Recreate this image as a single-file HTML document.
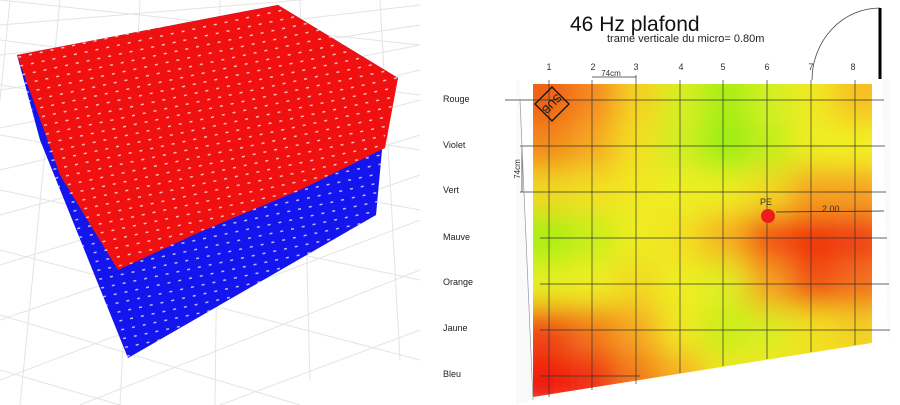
<!DOCTYPE html>
<html><head><meta charset="utf-8"><style>body{margin:0;background:#fff}svg{display:block;font-family:"Liberation Sans",sans-serif}</style></head><body>
<svg width="900" height="405" viewBox="0 0 900 405">
<defs>
<pattern id="dots" width="11" height="9" patternUnits="userSpaceOnUse" patternTransform="rotate(-12)"><rect x="6" y="5" width="3" height="1.5" fill="#fff" opacity=".7"/></pattern>
<filter id="bl" x="-10%" y="-10%" width="120%" height="120%"><feGaussianBlur stdDeviation="14"/></filter>
<clipPath id="hc"><polygon points="533,84 872,84 872,343 533,397"/></clipPath>
</defs>
<!-- left floor grid -->
<g stroke="#e4e4e4" stroke-width="1">
<line x1="0" y1="25" x2="420" y2="-10"/><line x1="0" y1="55" x2="420" y2="5"/><line x1="0" y1="90" x2="420" y2="25"/><line x1="0" y1="128" x2="420" y2="45"/><line x1="0" y1="170" x2="420" y2="70"/><line x1="0" y1="215" x2="420" y2="100"/><line x1="0" y1="265" x2="420" y2="135"/><line x1="0" y1="320" x2="420" y2="175"/><line x1="0" y1="380" x2="420" y2="220"/><line x1="80" y1="405" x2="420" y2="270"/><line x1="220" y1="405" x2="420" y2="330"/>
<line x1="0" y1="0" x2="420" y2="45"/><line x1="0" y1="40" x2="420" y2="95"/><line x1="0" y1="85" x2="420" y2="150"/><line x1="0" y1="135" x2="420" y2="210"/><line x1="0" y1="190" x2="420" y2="280"/><line x1="0" y1="250" x2="420" y2="360"/><line x1="0" y1="315" x2="300" y2="405"/><line x1="0" y1="370" x2="120" y2="405"/>
<line x1="60" y1="0" x2="20" y2="405"/><line x1="140" y1="0" x2="120" y2="405"/><line x1="220" y1="0" x2="215" y2="405"/><line x1="300" y1="0" x2="310" y2="380"/><line x1="380" y1="0" x2="400" y2="360"/><line x1="10" y1="0" x2="0" y2="100"/>
</g>
<polygon points="17,55 278,5 398,78 382,150 376,215 128,358 40,140" fill="#1414ee"/>
<polygon points="17,55 278,5 398,78 385,148 300,190 200,232 118,270 60,175" fill="#f01010"/>
<polygon points="17,55 278,5 398,78 382,150 376,215 128,358 40,140" fill="url(#dots)"/>
<!-- labels -->
<g font-size="9" fill="#222">
<text x="443" y="102">Rouge</text><text x="443" y="148">Violet</text><text x="443" y="193">Vert</text><text x="443" y="240">Mauve</text><text x="443" y="285">Orange</text><text x="443" y="331">Jaune</text><text x="443" y="377">Bleu</text>
</g>
<polygon points="516,80 890,80 890,338 533,400 516,405" fill="#fafafa"/>
<polygon points="520,80 882,80 888,340 533,400" fill="#fff"/>
<g clip-path="url(#hc)"><g filter="url(#bl)">
<g transform="translate(505,54)">
<rect x="0" y="0" width="66" height="69" fill="#f06018"/><rect x="66" y="0" width="44" height="69" fill="#f58a20"/><rect x="110" y="0" width="44" height="69" fill="#f5d020"/><rect x="154" y="0" width="44" height="69" fill="#d8ee20"/><rect x="198" y="0" width="44" height="69" fill="#a8ee18"/><rect x="242" y="0" width="44" height="69" fill="#d0f020"/><rect x="286" y="0" width="44" height="69" fill="#f2e820"/><rect x="330" y="0" width="60" height="69" fill="#f5c020"/>
<rect x="0" y="69" width="66" height="46" fill="#f28a1e"/><rect x="66" y="69" width="44" height="46" fill="#f5a820"/><rect x="110" y="69" width="44" height="46" fill="#f2e020"/><rect x="154" y="69" width="44" height="46" fill="#d0ee20"/><rect x="198" y="69" width="44" height="46" fill="#9aee16"/><rect x="242" y="69" width="44" height="46" fill="#c0ee1e"/><rect x="286" y="69" width="44" height="46" fill="#eeee20"/><rect x="330" y="69" width="60" height="46" fill="#f2f020"/>
<rect x="0" y="115" width="66" height="46" fill="#f0d820"/><rect x="66" y="115" width="44" height="46" fill="#f2e020"/><rect x="110" y="115" width="44" height="46" fill="#f2e820"/><rect x="154" y="115" width="44" height="46" fill="#eeee20"/><rect x="198" y="115" width="44" height="46" fill="#eeee20"/><rect x="242" y="115" width="44" height="46" fill="#f2d820"/><rect x="286" y="115" width="44" height="46" fill="#f5a020"/><rect x="330" y="115" width="60" height="46" fill="#f5a020"/>
<rect x="0" y="161" width="66" height="46" fill="#a8ee18"/><rect x="66" y="161" width="44" height="46" fill="#c8ee1e"/><rect x="110" y="161" width="44" height="46" fill="#eeee20"/><rect x="154" y="161" width="44" height="46" fill="#f2e020"/><rect x="198" y="161" width="44" height="46" fill="#f5b020"/><rect x="242" y="161" width="44" height="46" fill="#f25018"/><rect x="286" y="161" width="44" height="46" fill="#f03010"/><rect x="330" y="161" width="60" height="46" fill="#f04014"/>
<rect x="0" y="207" width="66" height="46" fill="#e6ee20"/><rect x="66" y="207" width="44" height="46" fill="#eeee20"/><rect x="110" y="207" width="44" height="46" fill="#f2d820"/><rect x="154" y="207" width="44" height="46" fill="#eeee20"/><rect x="198" y="207" width="44" height="46" fill="#e0ee20"/><rect x="242" y="207" width="44" height="46" fill="#f5a020"/><rect x="286" y="207" width="44" height="46" fill="#f25018"/><rect x="330" y="207" width="60" height="46" fill="#f2701a"/>
<rect x="0" y="253" width="66" height="46" fill="#f04a16"/><rect x="66" y="253" width="44" height="46" fill="#f27a1c"/><rect x="110" y="253" width="44" height="46" fill="#f5a820"/><rect x="154" y="253" width="44" height="46" fill="#f0e820"/><rect x="198" y="253" width="44" height="46" fill="#c8ee1e"/><rect x="242" y="253" width="44" height="46" fill="#d8ee20"/><rect x="286" y="253" width="44" height="46" fill="#f2e020"/><rect x="330" y="253" width="60" height="46" fill="#f2d020"/>
<rect x="0" y="299" width="66" height="60" fill="#f01e10"/><rect x="66" y="299" width="44" height="60" fill="#f03012"/><rect x="110" y="299" width="44" height="60" fill="#f27a1c"/><rect x="154" y="299" width="44" height="60" fill="#f5b020"/><rect x="198" y="299" width="44" height="60" fill="#eee820"/><rect x="242" y="299" width="44" height="60" fill="#eee820"/><rect x="286" y="299" width="44" height="60" fill="#f2e020"/><rect x="330" y="299" width="60" height="60" fill="#f2e020"/>
</g></g></g>
<!-- grid lines -->
<g stroke="#333" stroke-width=".7">
<line x1="505" y1="100" x2="884" y2="100"/><line x1="520" y1="146" x2="885" y2="146"/><line x1="520" y1="192" x2="886" y2="192"/><line x1="540" y1="238" x2="887" y2="238"/><line x1="540" y1="284" x2="889" y2="284"/><line x1="540" y1="330" x2="890" y2="330"/><line x1="540" y1="376" x2="640" y2="376"/>
<line x1="549" y1="80" x2="549" y2="397"/><line x1="592" y1="80" x2="592" y2="390"/><line x1="636" y1="75" x2="636" y2="384"/><line x1="680" y1="80" x2="680" y2="373"/><line x1="723" y1="80" x2="723" y2="366"/><line x1="767" y1="80" x2="767" y2="359"/><line x1="811" y1="80" x2="811" y2="352"/><line x1="855" y1="80" x2="855" y2="345"/>
<line x1="592" y1="77" x2="636" y2="77"/><line x1="522" y1="146" x2="522" y2="192"/>
<line x1="520" y1="100" x2="533" y2="400" stroke="#999"/>
</g>
<g font-size="9" fill="#333" text-anchor="middle">
<text x="549" y="70">1</text><text x="593" y="70">2</text><text x="636" y="70">3</text><text x="681" y="70">4</text><text x="723" y="70">5</text><text x="767" y="70">6</text><text x="811" y="70">7</text><text x="853" y="70">8</text>
<text x="611" y="76" font-size="8">74cm</text>
<text transform="translate(520,169) rotate(-90)" font-size="8">74cm</text>
</g>
<g transform="translate(552,104) rotate(-45)"><rect x="-12" y="-12" width="24" height="24" fill="none" stroke="#111" stroke-width="1.3"/><text x="0" y="4" font-size="11" text-anchor="middle" fill="#111" transform="rotate(180)">SUB</text></g>
<text x="766" y="205" font-size="9" text-anchor="middle" fill="#333">PE</text>
<circle cx="768" cy="216" r="7" fill="#ee1c1c"/>
<line x1="776" y1="212" x2="884" y2="211" stroke="#222" stroke-width=".7"/>
<text x="822" y="212" font-size="9" fill="#333">2.00</text>
<path d="M812,80 A68,72 0 0 1 880,8" fill="none" stroke="#444" stroke-width=".8"/>
<line x1="880" y1="8" x2="880" y2="79" stroke="#000" stroke-width="3"/>
<text x="570" y="31" font-size="21" fill="#111">46 Hz plafond</text>
<text x="607" y="42" font-size="11" fill="#222">trame verticale du micro= 0.80m</text>
</svg>
</body></html>
